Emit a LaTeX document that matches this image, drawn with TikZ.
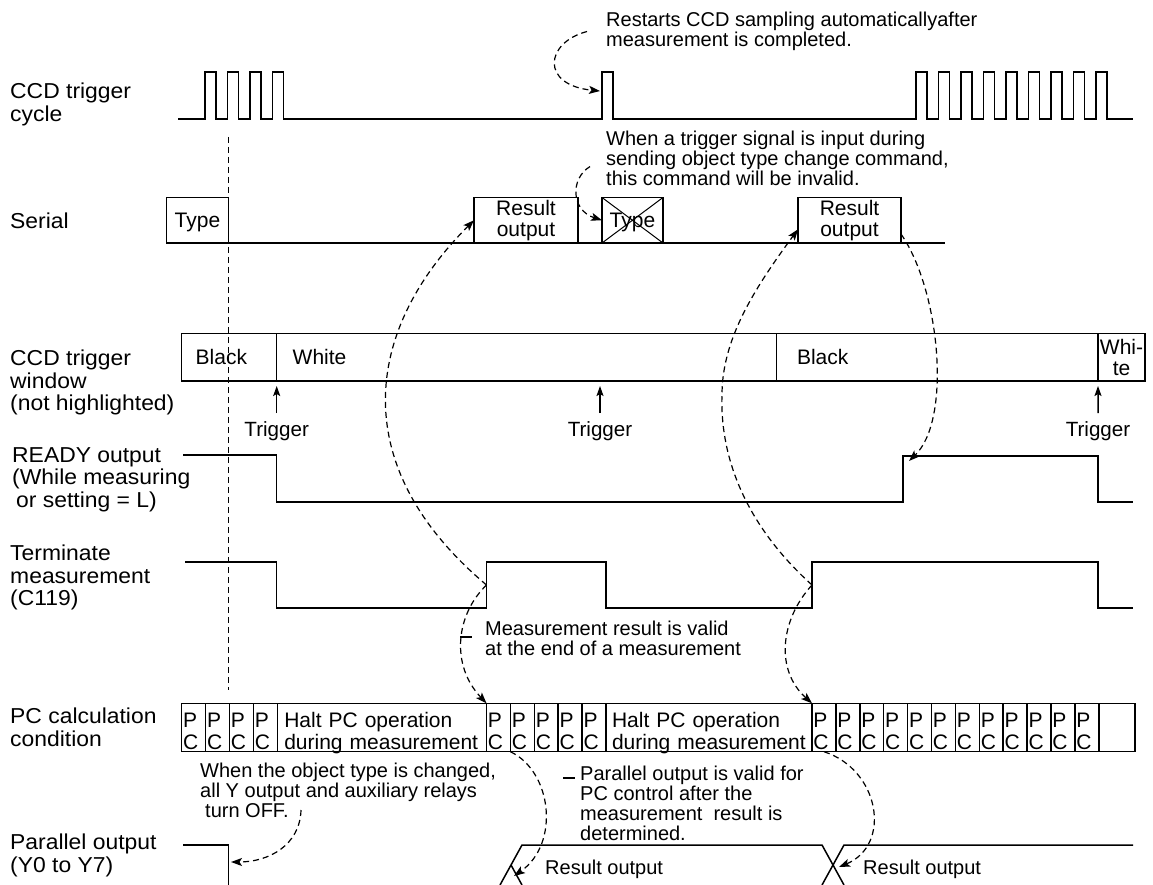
\documentclass[tikz,border=0pt]{standalone}
\usepackage{fontspec}
\setmainfont{Liberation Sans}
\newfontfamily\labelfont{Liberation Sans}[FakeStretch=1.06]
\usetikzlibrary{arrows.meta,positioning,calc}
\newcommand{\pcup}{\rule{0pt}{21pt}}

\begin{document}
\begin{tikzpicture}[
    x=1pt, y=-1pt,
    font=\fontsize{20}{20}\selectfont,
    sig/.style={line width=1.5pt},
    guide/.style={line width=1.2pt, dash pattern=on 6pt off 4pt},
    note/.style={guide, -{Stealth[length=11pt, width=8pt, inset=2.5pt]}},
    trig/.style={sig, -{Stealth[length=10pt, width=7pt, inset=2pt]}, shorten <=8pt, shorten >=5pt},
    leader/.style={line width=1.2pt},
    lbl/.style={anchor=north west, align=left, inner sep=0pt, font=\labelfont\fontsize{21.6}{22.5}\selectfont},
    txt/.style={anchor=north west, align=left, inner sep=0pt},
    tlabel/.style={anchor=north, inner sep=0pt, font=\fontsize{20.6}{21}\selectfont},
    sbox/.style={draw, sig, minimum height=45.5pt, inner sep=0pt, outer sep=0pt, anchor=south west, font=\fontsize{21}{21}\selectfont},
    wcell/.style={draw, sig, minimum height=47.7pt, inner ysep=0pt, outer sep=0pt, align=left, anchor=north west, font=\fontsize{21}{21}\selectfont},
    pcell/.style={draw, sig, minimum height=48.4pt, inner ysep=0pt, outer sep=0pt, align=left, anchor=north west, font=\fontsize{21}{22}\selectfont},
    pc/.style={pcell, text width=21pt, inner xsep=1.45pt},
]
    \useasboundingbox (0,0) rectangle (1153,885);

    % Signal names
    \node[lbl] (lcyc) at (10,83) {CCD trigger\\cycle};
    \node[lbl] (lser) at (10,213) {Serial};
    \node[lbl] (lwin) at (10,350) {CCD trigger\\window\\(not highlighted)};
    \node[lbl] (lrdy) at (12,447) {READY output\\(While measuring\\\hspace*{4pt}or setting = L)};
    \node[lbl] (lterm) at (10,545) {Terminate\\measurement\\(C119)};
    \node[lbl] (lpc) at (10,708) {PC calculation\\condition};
    \node[lbl] (lpar) at (10,834) {Parallel output\\(Y0 to Y7)};

    % CCD trigger cycle
    \draw[sig] (178,119)
        \foreach \x in {205,227.5,250,272.5} { -- (\x,119) -- (\x,72) -- ({\x+11},72) -- ({\x+11},119) }
        -- (602,119) -- (602,72) -- (613,72) -- (613,119)
        \foreach \i in {0,...,8} { -- ({916+22.5*\i},119) -- ({916+22.5*\i},72) -- ({927+22.5*\i},72) -- ({927+22.5*\i},119) }
        -- (1133,119);
    \coordinate (cycpulse) at (600,91);

    % Serial
    \node[sbox, minimum width=62pt, text depth=0pt] (type1) at (166.5,243) {Type};
    \node[sbox, minimum width=104pt, align=center] (res1) at (474,243) {Result\\output};
    \node[sbox, minimum width=61pt, text depth=0pt] (xtype) at (602,243) {Type};
    \node[sbox, minimum width=103pt, align=center] (res2) at (798,243) {Result\\output};
    \coordinate (serend) at (945,243);
    \draw[sig] (type1.south west) -- (serend);
    \draw[line width=1pt] (xtype.north west) -- (xtype.south east) (xtype.north east) -- (xtype.south west);

    % CCD trigger window
    \node[wcell, text width=67pt, inner xsep=14pt] (w1) at (181.7,333.3) {Black};
    \node[wcell, text width=467.8pt, inner xsep=16pt] (w2) at (w1.north east) {White};
    \node[wcell, text width=280.5pt, inner xsep=20.5pt] (w3) at (w2.north east) {Black};
    \node[wcell, text width=47pt, inner xsep=0pt, align=center] (w4) at (w3.north east) {Whi-\\te};
    \node[tlabel] (trg1) at (276.7,421) {Trigger};
    \node[tlabel] (trg2) at (600,421) {Trigger};
    \node[tlabel] (trg3) at (1098,421) {Trigger};
    \draw[trig] (trg1) -- (w2.south west);
    \draw[trig] (trg2) -- (trg2 |- w2.south);
    \draw[trig] (trg3) -- (w4.south west);

    % READY output
    \draw[sig] (183,455) -| (276.7,502) -| (903,456) -| (1098,502) -- (1133,502);
    \coordinate (rdyup) at (909,461);

    % Terminate measurement
    \draw[sig] (185,562) -| (276.7,608) -| (486.5,562) -| (606,608) -| (812,562) -| (1098,608) -- (1133,608);
    \coordinate (trise1) at (486.5,585);
    \coordinate (trise2) at (812,585);

    % PC calculation condition
    \foreach \i in {1,...,4}
        \node[pc] (pca\i) at ({181.7+23.9*(\i-1)},703.3) {\pcup P\\\smash{C}};
    \node[pcell, text width=195.2pt, inner xsep=7pt] (halt1) at (pca4.north east) {\pcup Halt PC operation\\\smash{during measurement}};
    \foreach \i in {1,...,5}
        \node[pc] (pcb\i) at ($(halt1.north east)+({23.9*(\i-1)},0)$) {\pcup P\\\smash{C}};
    \node[pcell, text width=194pt, inner xsep=6pt] (halt2) at (pcb5.north east) {\pcup Halt PC operation\\\smash{during measurement}};
    \foreach \i in {1,...,12}
        \node[pc] (pcc\i) at ($(halt2.north east)+({23.9*(\i-1)},0)$) {\pcup P\\\smash{C}};
    \node[pcell, minimum width=36.2pt] (pcend) at (pcc12.north east) {};

    % Parallel output
    \draw[sig] (183,845) -| (228.3,890);
    \draw[sig] (500,885) -- (522,845) -- (822,845) -- (844,885);
    \draw[sig] (511,865) -- (522,885);
    \draw[sig] (822,885) -- (844,845) -- (1133,845);
    \coordinate (parfall) at (231,862);
    \coordinate (par1) at (514,876);
    \coordinate (par2) at (839,867);
    \node[txt] (pres1) at (545,860) {Result output};
    \node[txt] (pres2) at (863,860) {Result output};

    % Time reference
    \draw[guide] (228.3,137) -- (228.3,690);

    % Notes
    \node[txt] (nrestart) at (606,12) {Restarts CCD sampling automaticallyafter\\measurement is completed.};
    \node[txt] (ninvalid) at (606,131) {When a trigger signal is input during\\sending object type change command,\\this command will be invalid.};
    \node[txt] (nmvalid) at (485,621) {Measurement result is valid\\at the end of a measurement};
    \node[txt] (ntype) at (200,763) {When the object type is changed,\\all Y output and auxiliary relays\\\hspace*{5pt}turn OFF.};
    \node[txt] (npvalid) at (580,766) {Parallel output is valid for\\PC control after the\\measurement~ result is\\determined.};
    \coordinate (offnote) at (301,810);

    % Dashed arrows
    \draw[note] ([xshift=-19pt]nrestart.west) .. controls +(-42,11) and +(-60,-6) .. (cycpulse);
    \draw[note] ([xshift=-16pt,yshift=-8pt]ninvalid.west) .. controls +(-20,12) and +(-31,-10) .. (xtype.west);
    \draw[note] (trise1) .. controls +(-140,-118) and +(-111,111) .. (res1.west);
    \draw[note] (trise1) .. controls +(-31,30) and +(-36,-38) .. (halt1.north east);
    \draw[note] (trise2) .. controls +(-72,-65) and +(-2,55) .. (722,395) .. controls +(0,-55) and +(-45,61) .. (res2.190);
    \draw[note] (trise2) .. controls +(-32,35) and +(-37,-33) .. (halt2.north east);
    \draw[note] (res2.-15) .. controls +(39,56) and +(43,-41) .. (rdyup);
    \draw[note] (offnote) .. controls +(-1,35) and +(38,0) .. (parfall);
    \draw[note] (pcb1.south east) .. controls +(42,20) and +(46,-32) .. (par1);
    \draw[note] (pcc1.south) .. controls +(56,18) and +(53,-22) .. (par2);
    \draw[leader] ([xshift=-25pt,yshift=-16pt]nmvalid.north west) -- ++(12,0);
    \draw[leader] ([xshift=-17pt,yshift=-12pt]npvalid.north west) -- ++(12,0);
\end{tikzpicture}
\end{document}
